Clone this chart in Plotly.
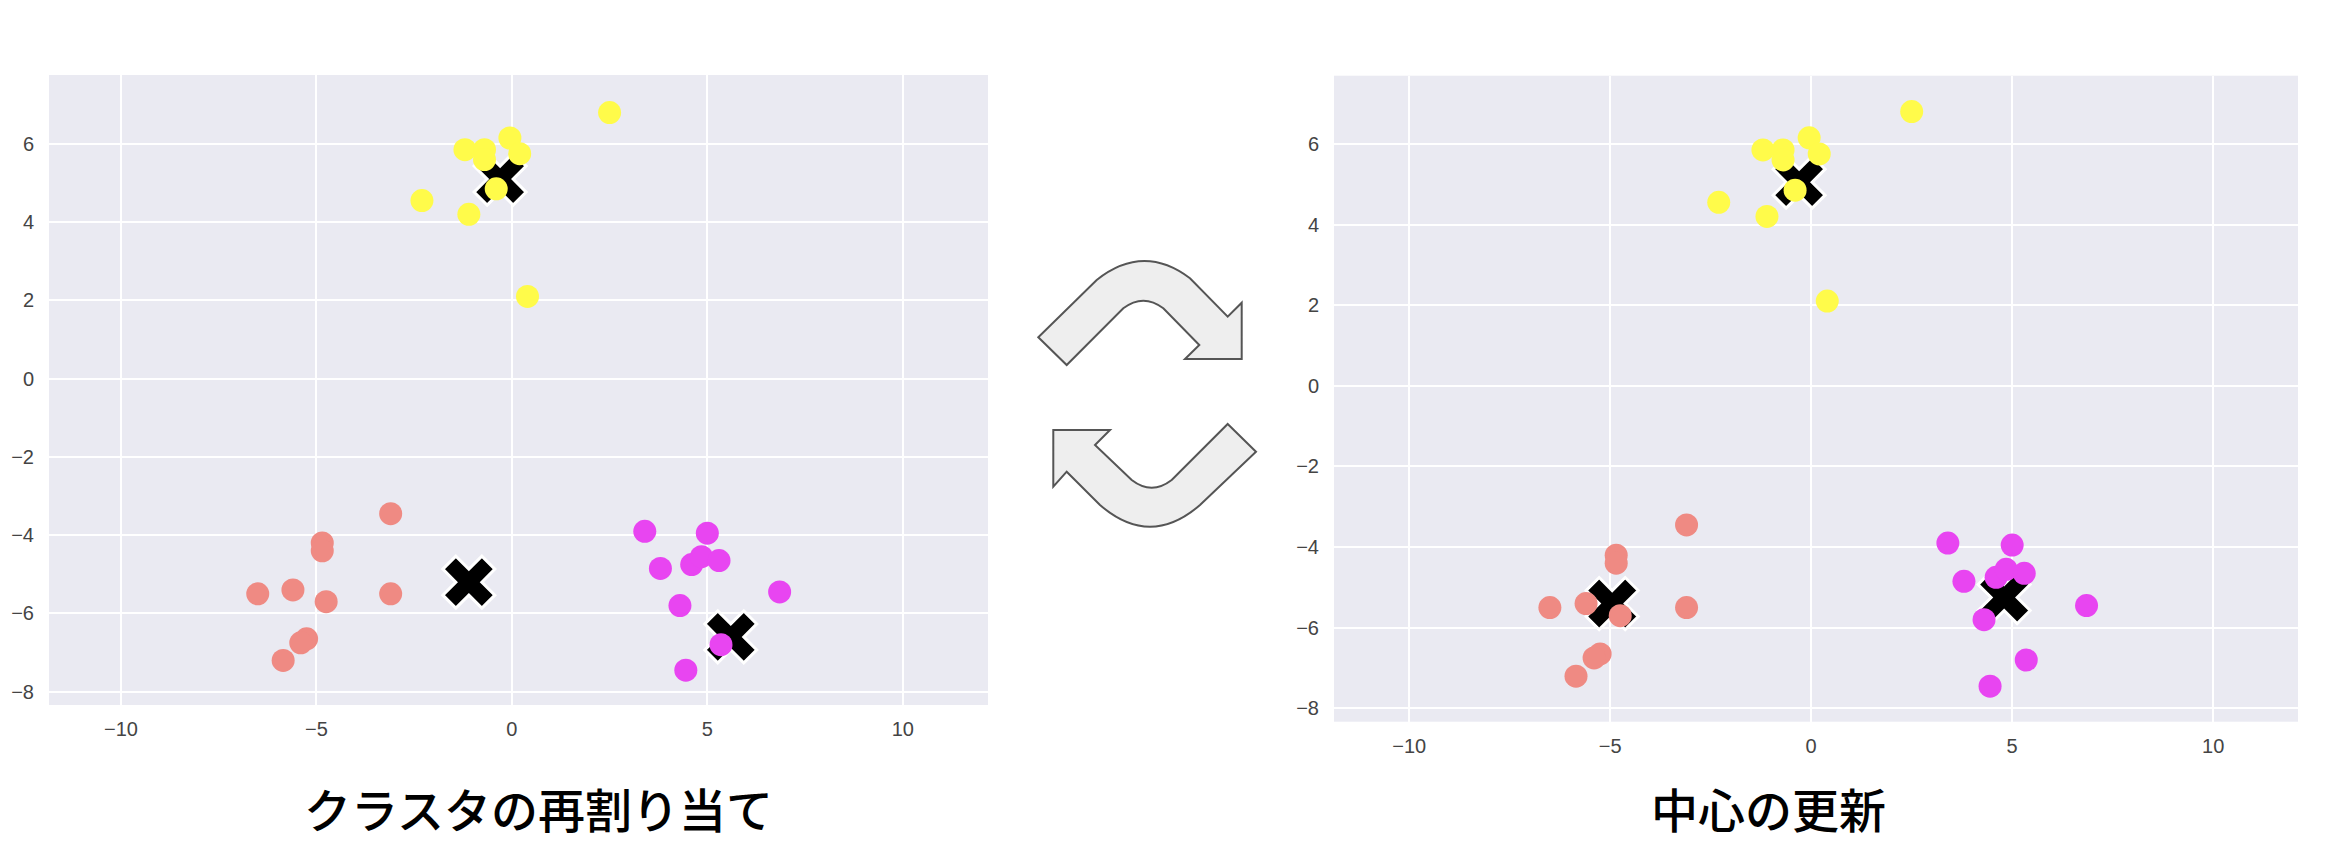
import plotly.graph_objs as go

# ---------------------------------------------------------------- data
# cluster points (same points in both panels)
yellow_x = [2.5, -1.2, -0.7, -0.7, -0.05, 0.2, -0.4, -2.3, -1.1, 0.4]
yellow_y = [6.8, 5.85, 5.85, 5.6, 6.15, 5.75, 4.85, 4.55, 4.2, 2.1]

salmon_x = [-3.1, -4.85, -4.85, -6.5, -5.6, -4.75, -3.1, -5.25, -5.4, -5.85]
salmon_y = [-3.45, -4.2, -4.4, -5.5, -5.4, -5.7, -5.5, -6.65, -6.75, -7.2]

magenta_x = [3.4, 5.0, 3.8, 4.6, 4.85, 5.3, 6.85, 4.3, 5.35, 4.45]
magenta_y = [-3.9, -3.95, -4.85, -4.75, -4.55, -4.65, -5.45, -5.8, -6.8, -7.45]

# centroids before (left) and after (right) the update
old_cx = [-0.3, -1.1, 5.6]
old_cy = [5.1, -5.2, -6.6]
new_cx = [-0.3, -4.95, 4.8]
new_cy = [5.05, -5.4, -5.25]

tick_vals_x = [-10, -5, 0, 5, 10]
tick_vals_y = [-8, -6, -4, -2, 0, 2, 4, 6]

titles = ['クラスタの再割り当て', '中心の更新']

# ---------------------------------------------------------------- style
# page body has an 8px margin, so the figure is drawn 8px in from the window corner
OFF = 8
W, H = 2330 - OFF, 866 - OFF
colors = {'yellow': '#fffb4a', 'salmon': '#ef8a83', 'magenta': '#e845f1'}


def px_dom(a, b):
    return [(a - OFF) / W, (b - OFF) / W]


def py_dom(top, bottom):
    return [1 - (bottom - OFF) / H, 1 - (top - OFF) / H]


def px(x):
    return (x - OFF) / W


def py(y):
    return 1 - (y - OFF) / H


# function: svg path in paper units from window-pixel commands
def paper_path(cmds):
    out = []
    for c in cmds:
        if isinstance(c, str):
            out.append(c)
        else:
            out.append('%.5f,%.5f' % (px(c[0]), py(c[1])))
    return ' '.join(out)


fig = go.Figure()


# function: adding one scatter panel
def add_panel(xa, ya, cx, cy):
    fig.add_trace(go.Scatter(
        x=cx, y=cy, mode='markers', xaxis=xa, yaxis=ya,
        marker=dict(symbol='x', size=46, color='black', line=dict(color='white', width=3)),
        showlegend=False))
    for xs, ys, c in [(yellow_x, yellow_y, 'yellow'), (salmon_x, salmon_y, 'salmon'),
                      (magenta_x, magenta_y, 'magenta')]:
        fig.add_trace(go.Scatter(
            x=xs, y=ys, mode='markers', xaxis=xa, yaxis=ya,
            marker=dict(size=23, color=colors[c], line=dict(width=0)),
            showlegend=False))


add_panel('x', 'y', old_cx, old_cy)
add_panel('x2', 'y2', new_cx, new_cy)

axis_common = dict(showgrid=True, gridcolor='white', gridwidth=2, zeroline=False,
                   showline=False, ticks='', automargin=False,
                   tickfont=dict(family='Liberation Sans', size=20, color='#444444'))

fig.update_layout(
    width=W, height=H,
    margin=dict(l=0, r=0, t=0, b=0),
    paper_bgcolor='white',
    plot_bgcolor='#eaeaf2',
    xaxis=dict(domain=px_dom(49, 988), range=[-11.84, 12.18], tickvals=tick_vals_x,
               anchor='y', ticklabelstandoff=10, **axis_common),
    yaxis=dict(domain=py_dom(75, 705), range=[-8.34, 7.76], tickvals=tick_vals_y,
               anchor='x', ticklabelstandoff=14, **axis_common),
    xaxis2=dict(domain=px_dom(1334, 2298), range=[-11.87, 12.11], tickvals=tick_vals_x,
                anchor='y2', ticklabelstandoff=10, **axis_common),
    yaxis2=dict(domain=py_dom(75.7, 721.7), range=[-8.33, 7.69], tickvals=tick_vals_y,
                anchor='x2', ticklabelstandoff=14, **axis_common),
)

# curved arrows between the panels
arrow_top = ['M', (1038.3, 337.3), 'L', (1066.7, 365), 'L', (1123.3, 308.3),
             'Q', (1143.3, 293.1), (1163.3, 308.3), 'L', (1199.3, 345), 'L', (1185, 359),
             'L', (1241.7, 359), 'L', (1241.7, 302.7), 'L', (1227.7, 316.7), 'L', (1190, 278.3),
             'Q', (1143.3, 243), (1096.7, 280), 'Z']
arrow_bottom = ['M', (1227.7, 424), 'L', (1256, 451.7), 'L', (1200, 505),
                'Q', (1150, 548.4), (1100, 505), 'L', (1066.7, 471.7), 'L', (1053.3, 486.7),
                'L', (1053.3, 430), 'L', (1110, 430), 'L', (1095, 445), 'L', (1131.7, 480),
                'Q', (1151.7, 495.4), (1171.7, 480), 'Z']
for p in [arrow_top, arrow_bottom]:
    fig.add_shape(type='path', path=paper_path(p), xref='paper', yref='paper',
                  fillcolor='#eeeeee', line=dict(color='#555555', width=2))

# panel titles
for t, xc in zip(titles, [538, 1768]):
    fig.add_annotation(text=t, x=px(xc), y=py(807), xref='paper', yref='paper',
                       showarrow=False, xanchor='center', yanchor='middle',
                       font=dict(family='Noto Sans CJK JP', size=47, color='black', weight=500))

fig.write_html("out.html")
